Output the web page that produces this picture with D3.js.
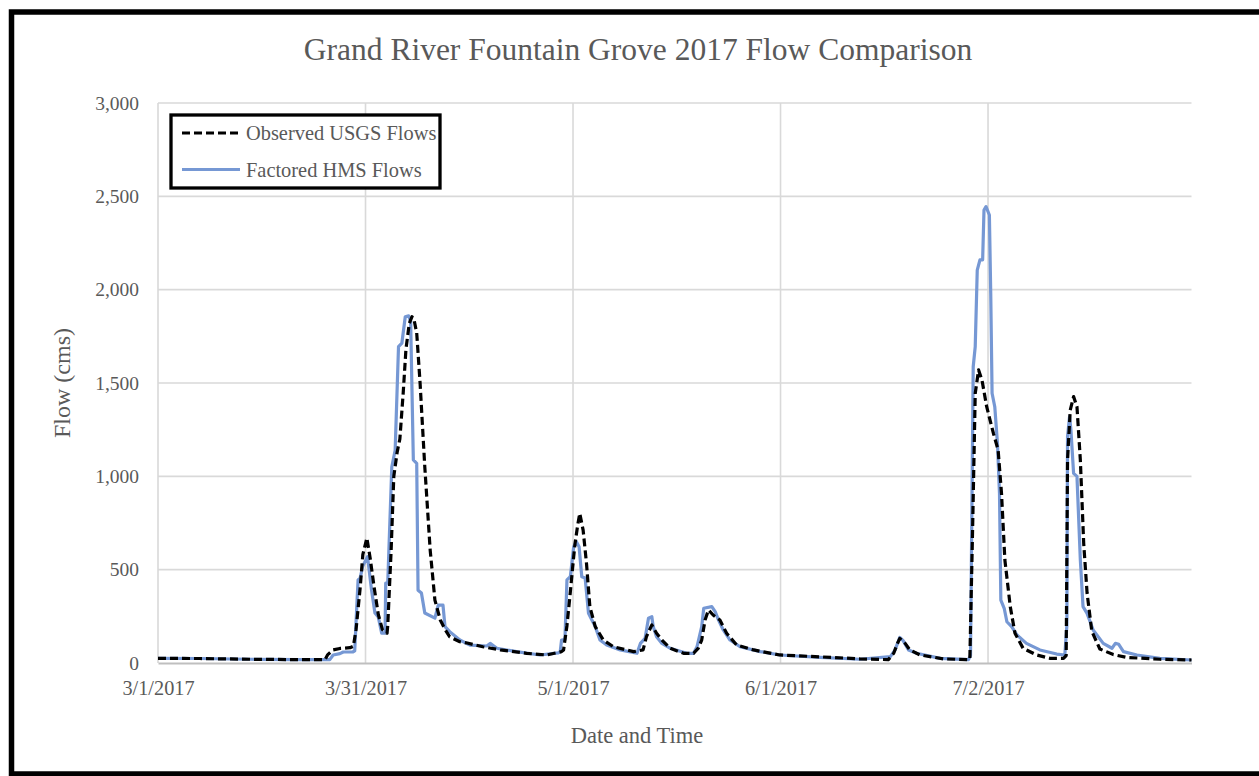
<!DOCTYPE html>
<html>
<head>
<meta charset="utf-8">
<script src="https://cdn.jsdelivr.net/npm/d3@7"></script>
<style>
  html, body { margin: 0; padding: 0; background: #fff; }
  svg { display: block; }
  text { font-family: "Liberation Serif", "Times New Roman", serif; fill: #595959; }
</style>
</head>
<body>
<svg id="chart" width="1259" height="776"></svg>
<script>
// Series are given as (days since 3/1/2017 00:00, flow in cms)
const obsDays = [0, 6.2, 13.7, 21.1, 24.8, 25.2, 26.0, 27.0, 28.5, 29.0, 29.4, 30.0, 30.4, 31.0, 31.5, 32.1, 32.7, 33.3, 34.0, 34.1, 34.6, 35.0, 35.5, 35.9, 36.4, 36.8, 37.3, 37.7, 38.0, 38.4, 38.9, 39.6, 40.4, 41.1, 41.9, 42.6, 43.3, 44.8, 45.9, 48.2, 50.8, 54.7, 57.7, 59.2, 59.9, 60.2, 60.7, 61.2, 61.7, 61.9, 62.3, 62.6, 63.1, 63.6, 64.1, 64.9, 66.1, 67.6, 70.6, 72.0, 72.5, 73.3, 74.0, 74.8, 76.0, 78.0, 79.5, 80.2, 80.7, 81.2, 81.7, 82.4, 83.4, 84.4, 85.9, 88.4, 92.3, 98.3, 104.2, 108.4, 109.2, 109.7, 110.1, 110.9, 111.6, 113.1, 116.6, 120.3, 120.5, 120.9, 121.3, 121.8, 122.3, 123.0, 124.0, 124.7, 125.2, 125.7, 126.5, 127.2, 128.4, 130.4, 132.4, 134.4, 134.8, 135.0, 135.4, 135.9, 136.4, 136.9, 137.4, 137.9, 138.6, 139.8, 141.8, 143.8, 148.7, 153.4];
const obsFlow = [25, 24, 20, 18, 18, 45, 70, 78, 82, 90, 180, 400, 580, 670, 560, 400, 260, 180, 160, 200, 600, 1000, 1130, 1200, 1450, 1680, 1820, 1855, 1840, 1768, 1500, 1050, 605, 337, 230, 180, 140, 114, 107, 87, 70, 52, 43, 55, 61, 70, 200, 380, 570, 640, 740, 802, 712, 534, 302, 195, 123, 87, 61, 70, 141, 204, 159, 123, 79, 52, 52, 80, 123, 230, 284, 257, 230, 159, 96, 70, 43, 33, 22, 18, 52, 100, 132, 105, 70, 43, 22, 18, 20, 700, 1445, 1570, 1516, 1373, 1230, 1141, 909, 552, 302, 159, 79, 43, 25, 25, 40, 1088, 1355, 1427, 1373, 1088, 641, 375, 170, 75, 45, 30, 20, 16];

const hmsDays = [0, 6.2, 13.7, 21.1, 25.5, 26.0, 27.0, 27.5, 28.9, 29.2, 29.5, 29.7, 30.0, 30.4, 31.1, 31.7, 32.2, 32.7, 33.2, 33.7, 33.8, 34.1, 34.7, 35.2, 35.7, 36.2, 36.7, 37.2, 37.5, 37.9, 38.4, 38.6, 39.1, 39.6, 41.1, 41.6, 42.3, 42.6, 43.3, 44.8, 46.3, 48.8, 49.3, 50.3, 53.2, 56.7, 59.4, 59.7, 59.9, 60.4, 60.7, 61.2, 61.7, 62.1, 62.5, 62.9, 63.4, 63.9, 64.4, 64.9, 65.6, 66.6, 68.6, 71.1, 71.6, 72.3, 72.8, 73.3, 73.5, 74.0, 74.8, 76.0, 78.5, 79.5, 80.0, 80.7, 81.0, 82.2, 82.7, 83.2, 83.9, 84.9, 86.4, 89.4, 92.3, 98.3, 104.2, 108.7, 109.4, 110.1, 110.6, 111.4, 112.6, 116.1, 120.3, 120.6, 121.0, 121.3, 121.6, 122.0, 122.4, 122.6, 122.9, 123.4, 123.6, 123.8, 124.2, 124.6, 124.9, 125.1, 125.6, 126.0, 126.7, 127.5, 128.9, 130.9, 133.4, 134.6, 134.9, 135.0, 135.3, 135.5, 135.9, 136.4, 136.9, 137.3, 137.9, 138.8, 140.3, 141.6, 142.1, 142.6, 143.3, 145.3, 148.7, 153.4];
const hmsFlow = [25, 24, 20, 18, 18, 43, 50, 59, 59, 65, 300, 445, 455, 520, 570, 390, 268, 246, 160, 160, 428, 428, 1050, 1140, 1695, 1714, 1855, 1860, 1830, 1088, 1070, 390, 375, 268, 240, 310, 310, 195, 168, 123, 96, 91, 105, 79, 61, 43, 54, 61, 123, 125, 445, 462, 623, 650, 623, 462, 455, 266, 230, 195, 123, 96, 70, 52, 105, 132, 240, 248, 195, 141, 105, 79, 52, 52, 87, 195, 293, 302, 275, 230, 177, 123, 87, 61, 43, 30, 20, 34, 70, 137, 120, 70, 52, 25, 18, 40, 1587, 1695, 2105, 2160, 2160, 2427, 2445, 2400, 1980, 1445, 1373, 1177, 909, 337, 293, 221, 195, 150, 105, 70, 48, 43, 200, 1212, 1320, 1250, 1016, 1000, 552, 302, 266, 177, 105, 79, 105, 100, 61, 43, 25, 16];

const seriesNames = ["Observed USGS Flows", "Factored HMS Flows"];
const yTickValues = [0, 500, 1000, 1500, 2000, 2500, 3000];
const xTickLabels = ["3/1/2017", "3/31/2017", "5/1/2017", "6/1/2017", "7/2/2017"];
const xMajorUnitDays = 30.8;
const xEndDays = 153.4;

const startDate = new Date(2017, 2, 1);
const dayMs = 864e5;
const toDate = d => new Date(startDate.getTime() + d * dayMs);

const svg = d3.select("#chart");
const plot = { left: 158, right: 1191.5, top: 103, bottom: 663 };

const x = d3.scaleTime()
  .domain([startDate, toDate(xEndDays)])
  .range([plot.left, plot.right]);
const y = d3.scaleLinear().domain([0, 3000]).range([plot.bottom, plot.top]);

const xTickDates = xTickLabels.map((_, i) => toDate(i * xMajorUnitDays));

// outer frame
svg.append("rect")
  .attr("x", 11.5).attr("y", 12)
  .attr("width", 1265).attr("height", 762)
  .attr("fill", "none").attr("stroke", "#000").attr("stroke-width", 5.5);

// title
svg.append("text")
  .attr("x", 638).attr("y", 60)
  .attr("text-anchor", "middle")
  .style("font-size", "31.5px")
  .text("Grand River Fountain Grove 2017 Flow Comparison");

// gridlines
const grid = svg.append("g");
grid.selectAll("line.h").data(yTickValues.filter(v => v > 0)).join("line")
  .attr("x1", plot.left).attr("x2", plot.right)
  .attr("y1", d => y(d)).attr("y2", d => y(d))
  .attr("stroke", "#d9d9d9").attr("stroke-width", 1.6);
grid.selectAll("line.v").data(xTickDates).join("line")
  .attr("x1", d => x(d)).attr("x2", d => x(d))
  .attr("y1", plot.top).attr("y2", plot.bottom)
  .attr("stroke", "#d9d9d9").attr("stroke-width", 1.6);

// y axis labels
const yAxis = d3.axisLeft(y).tickValues(yTickValues).tickFormat(d3.format(",")).tickSize(0).tickPadding(19);
const gy = svg.append("g").attr("transform", `translate(${plot.left},0)`).call(yAxis);
gy.select(".domain").remove();
gy.selectAll("text").style("font-size", "19.5px").attr("fill", "#595959")
  .style("font-family", '"Liberation Serif", serif');

// x axis
const xAxis = d3.axisBottom(x).tickValues(xTickDates).tickFormat((d, i) => xTickLabels[i]).tickSize(0).tickPadding(18);
const gx = svg.append("g").attr("transform", `translate(0,${plot.bottom})`).call(xAxis);
gx.select(".domain").attr("stroke", "#bfbfbf").attr("stroke-width", 2);
gx.selectAll("text").style("font-size", "20.3px").attr("fill", "#595959")
  .style("font-family", '"Liberation Serif", serif');

// axis titles
svg.append("text")
  .attr("x", 637).attr("y", 743)
  .attr("text-anchor", "middle")
  .style("font-size", "22.5px")
  .text("Date and Time");
svg.append("text")
  .attr("transform", "translate(70,383) rotate(-90)")
  .attr("text-anchor", "middle")
  .style("font-size", "24px")
  .text("Flow (cms)");

// series lines
const line = d3.line().x(d => x(toDate(d[0]))).y(d => y(d[1]));
const hmsPts = hmsDays.map((d, i) => [d, hmsFlow[i]]);
const obsPts = obsDays.map((d, i) => [d, obsFlow[i]]);

svg.append("path").datum(hmsPts)
  .attr("d", line).attr("fill", "none")
  .attr("stroke", "#7698d4").attr("stroke-width", 3.2)
  .attr("stroke-linejoin", "round");
svg.append("path").datum(obsPts)
  .attr("d", line).attr("fill", "none")
  .attr("stroke", "#000").attr("stroke-width", 3.2)
  .attr("stroke-dasharray", "8,4")
  .attr("stroke-linejoin", "round");

// legend
const lg = svg.append("g");
lg.append("rect")
  .attr("x", 171).attr("y", 115).attr("width", 269).attr("height", 73)
  .attr("fill", "#fff").attr("stroke", "#000").attr("stroke-width", 3.3);
const legendItems = [
  { name: seriesNames[0], stroke: "#000", dash: "8,4", y: 133 },
  { name: seriesNames[1], stroke: "#7698d4", dash: null, y: 169.5 }
];
legendItems.forEach(it => {
  lg.append("line")
    .attr("x1", 182).attr("x2", 240).attr("y1", it.y).attr("y2", it.y)
    .attr("stroke", it.stroke).attr("stroke-width", 3)
    .attr("stroke-dasharray", it.dash);
  lg.append("text")
    .attr("x", 246).attr("y", it.y + 7)
    .style("font-size", "20.4px")
    .text(it.name);
});
</script>
</body>
</html>
